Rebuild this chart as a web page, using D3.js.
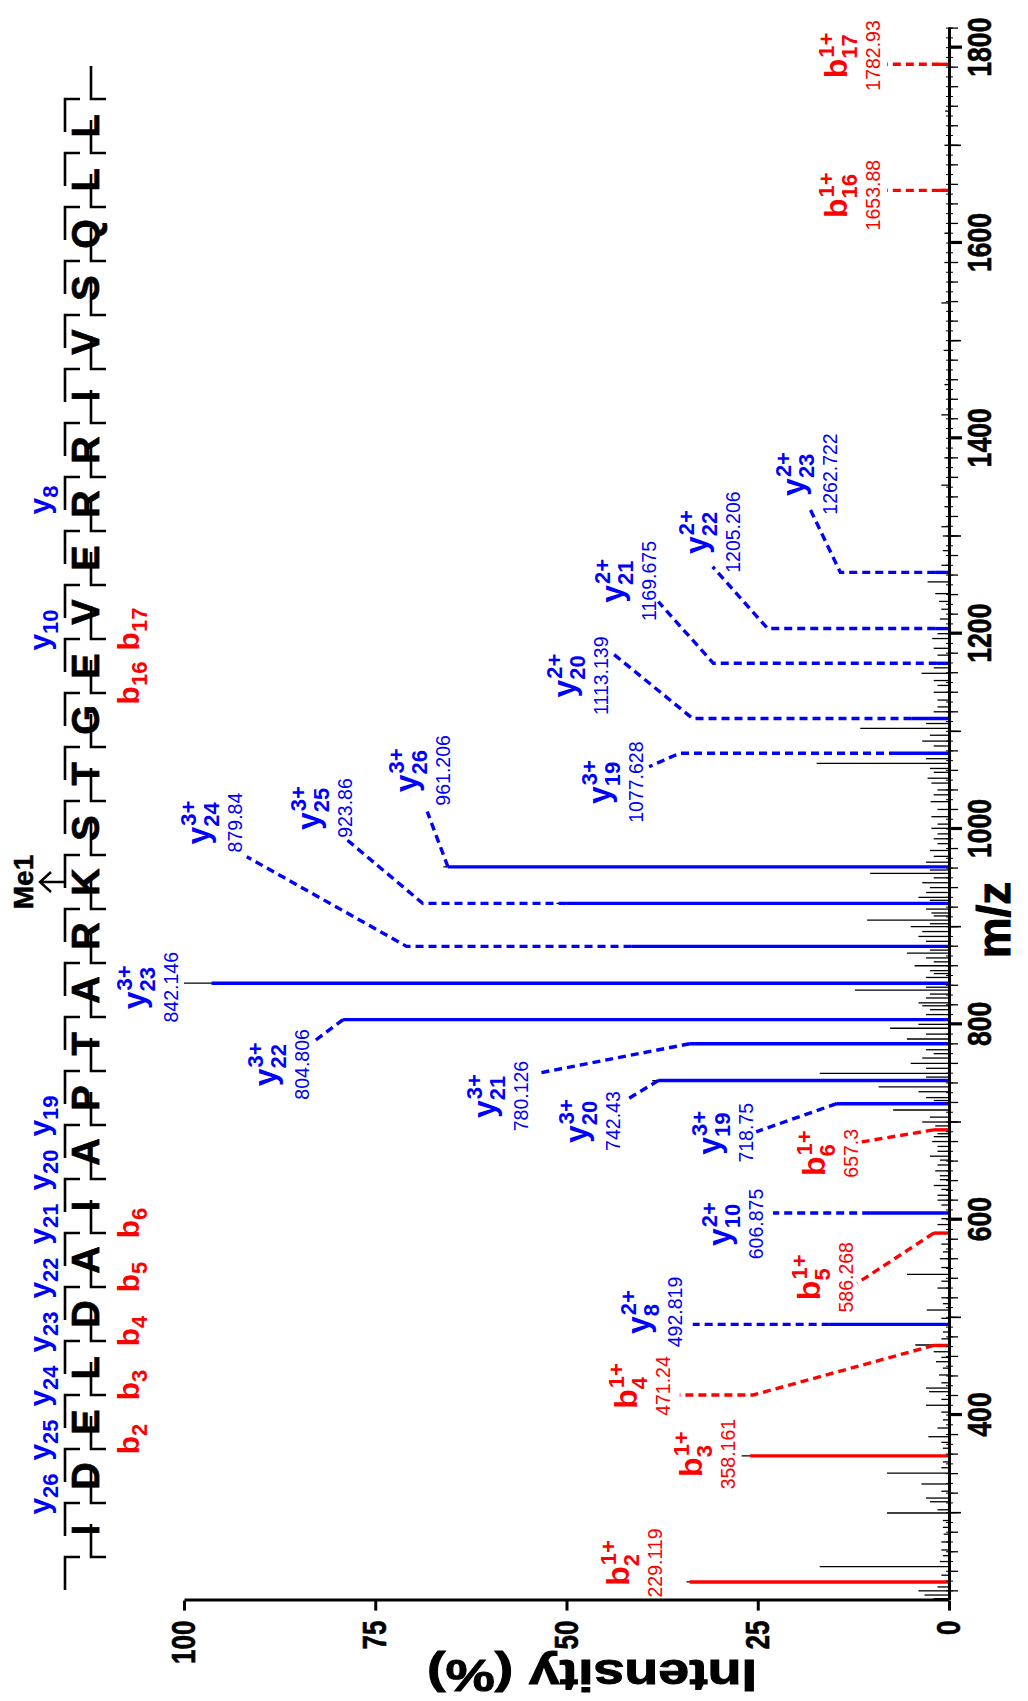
<!DOCTYPE html>
<html><head><meta charset="utf-8">
<script src="https://cdn.jsdelivr.net/npm/d3@7"></script>
<style>body{margin:0;background:#fff}svg{display:block}</style>
</head><body>
<svg id="chart" width="1028" height="1701"></svg>
<script>
// ---------------- DATA ----------------
const sequence = "IDELDAIAPTARKSTGEVERRIVSQLL".split("");
const seqYIons = [26,25,24,23,22,21,20,19,10,8];
const seqYShift = [0,0,0,0,0,0,0,0,0,22];   // label nudge along the sequence
const seqBIons = [2,3,4,5,6,16,17];
const modResidue = 12;            // K carries Me1
const modText = "Me1";
const mzDomain = [210, 1820];
const mzTicks = [400,600,800,1000,1200,1400,1600,1800];
const intTicks = [0,25,50,75,100];

// unassigned / raw spectrum (m/z, relative intensity %)
const spectrumMz = [212,215.7,220,224,229.1,236,244.7,250,256,261.8,270,278,285,292,299.7,303,311.2,315,322,329.4,340.6,346,352,358.2,366,372,377.8,386.7,395,403,410,416,423.9,427.6,433,441,448,454.6,459,464.8,471.7,478,485,492.8,499,507.5,514,520,530,537,544,551,560,567,575,586.3,595,601,606.9,615,620,625,631,635,641,645,650,656,661,665,670,675,680,685,688,692,696,700,705,712.3,718.7,722,725,731,736,742.4,746,749.8,755,760,765.5,770,774,780.1,785,790,796,800,804.8,810,815,819,822,827,831,835,838,842.1,848,852,855,860,864,868,873,876,879.8,885,890,895,900,903,906.8,911,914,918,923.9,927,930,935,940,945,950,954.6,958,961.2,966,972,978,985,990,995,1000.7,1005,1012.6,1020,1028,1035,1040,1047,1052,1058,1062,1067.2,1072,1077.6,1085,1090,1096,1103,1108,1113.1,1120,1125,1132,1140,1147,1152,1159.4,1165,1169.7,1178,1185,1195,1200,1205.2,1215,1225,1233,1241,1253,1262.7,1270,1285,1300,1309.5,1330,1352,1380,1424,1455,1490,1538.6,1580,1610,1653.9,1700,1735,1782.9];
const spectrumInt = [2.0,3.2,4.0,1.5,34.3,1.0,16.9,1.2,0.8,1.0,1.0,0.7,0.8,0.8,8.1,1.5,2.5,3.0,1.0,3.6,8.1,1.0,0.8,27.1,0.8,1.0,2.7,1.5,0.8,1.0,3.0,1.0,2.6,3.0,1.0,1.3,0.8,1.7,1.0,2.0,4.4,1.0,0.8,15.8,1.0,2.9,0.8,1.0,1.5,1.0,5.5,1.0,1.2,0.8,1.0,2.2,1.5,1.0,11.2,1.0,1.5,1.5,1.0,2.0,1.2,1.2,1.8,1.5,1.2,2.5,1.5,1.5,2.2,2.0,1.5,2.5,1.8,3.5,2.5,7.3,15.2,2.0,3.0,4.0,9.2,38.8,3.0,16.9,3.0,5.0,3.5,2.0,3.0,34.3,5.5,3.0,7.7,4.0,79.5,3.0,2.5,3.5,4.0,3.0,2.5,12.3,3.0,100,3.0,2.0,2.5,4.5,2.0,3.0,5.5,2.5,42.0,3.0,4.0,3.5,5.0,2.5,10.7,2.0,2.3,3.0,51.3,2.5,4.0,3.0,2.5,3.5,2.0,10.3,2.5,66.1,3.0,2.0,2.5,1.5,2.0,1.5,2.3,1.5,2.3,1.5,2.4,2.0,1.5,2.3,2.8,2.0,2.5,17.3,3.0,7.5,2.0,3.5,2.5,11.6,3.0,5.5,2.0,1.5,1.5,2.0,1.5,2.0,3.6,2.0,2.2,1.5,2.0,2.2,1.5,2.4,1.2,1.0,1.3,1.8,2.8,2.4,1.0,0.8,0.8,1.0,0.6,1.0,0.6,1.0,0.6,0.7,1.0,0.6,0.6,1.6,0.6,0.5,1.6];

// assigned fragment ions
const ionType   = ["b","b","b","y","b","y","b","y","y","y","y","y","y","y","y","y","y","y","y","y","b","b"];
const ionIndex  = ["2","3","4","8","5","10","6","19","20","21","22","23","24","25","26","19","20","21","22","23","16","17"];
const ionCharge = ["1+","1+","1+","2+","1+","2+","1+","3+","3+","3+","3+","3+","3+","3+","3+","3+","2+","2+","2+","2+","1+","1+"];
const ionText   = ["229.119","358.161","471.24","492.819","586.268","606.875","657.3","718.75","742.43","780.126","804.806","842.146","879.84","923.86","961.206","1077.628","1113.139","1169.675","1205.206","1262.722","1653.88","1782.93"];
const ionMz     = [229.119,358.161,471.24,492.819,586.268,606.875,692,718.75,742.43,780.126,804.806,842.146,879.84,923.86,961.206,1077.628,1113.139,1169.675,1205.206,1262.722,1653.88,1782.93];
const ionInt    = [33.9,26.0,2.0,15.6,2.0,10.3,2.0,14.7,38.0,33.9,79.2,96.4,41.5,50.0,65.5,6.8,4.9,1.6,1.8,1.8,1.2,1.2];
// leader (dashed) bends after the peak top: [m/z, %]
const ionLeader = [[],[],[[420.5,25.6],[420.5,35.2]],[[492.819,33.5]],[[535,12.0]],[[606.875,23.0]],[[679.5,11.5]],[[690,25.2]],[[722.5,42.2]],[[750,53.7]],[[782,83.1]],[],[[879.84,70.9],[971.6,91.8]],[[923.86,68.8],[989,78.7]],[[1017.7,68.2]],[[1077.628,35.2],[1063.8,39.2]],[[1113.139,33.5],[1180,44.0]],[[1169.675,30.8],[1232.7,38.0]],[[1205.206,23.7],[1268.5,30.9]],[[1262.722,14.2],[1326.6,18.1]],[[1653.88,8.1]],[[1782.93,8.1]]];
// label anchor: centre m/z and intensity of the number's baseline
const ionLabelMz  = [248.5,360,429.7,505.5,541,595.6,668,689,701,726.6,759,838,1006.6,1021.5,1060,1048,1157,1254,1304,1363.5,1649,1792];
const ionLabelInt = [37.5,28.0,36.5,34.9,12.5,24.3,11.9,25.6,43.0,55.0,83.7,100.8,92.4,78.1,65.2,40.0,44.6,38.3,27.3,14.7,9.0,9.0];

const colors = {b:"#ff0000", y:"#0000ff"};
const FONT = "'Liberation Sans', Arial, Helvetica, sans-serif";

// ---------------- CHART ----------------
const W = 1028, H = 1701;
const svg = d3.select("#chart");
// the chart is drawn unrotated (m/z horizontal) and rotated -90 deg as a whole
const g = svg.append("g").attr("transform", `translate(0,${H}) rotate(-90)`)
  .style("font-family", FONT);

const x = d3.scaleLinear().domain(mzDomain).range([100.4, 1672.9]);
const y = d3.scaleLinear().domain([0, 100]).range([949, 184]);

// raw spectrum
g.append("g").selectAll("line").data(d3.range(spectrumMz.length)).join("line")
  .attr("x1", i => x(spectrumMz[i])).attr("x2", i => x(spectrumMz[i]))
  .attr("y1", y(0)).attr("y2", i => y(spectrumInt[i]))
  .attr("stroke", "#000").attr("stroke-width", 1.3);

// assigned peaks
const ions = d3.range(ionMz.length);
g.append("g").selectAll("line").data(ions).join("line")
  .attr("x1", i => x(ionMz[i])).attr("x2", i => x(ionMz[i]))
  .attr("y1", y(0)).attr("y2", i => y(ionInt[i]))
  .attr("stroke", i => colors[ionType[i]]).attr("stroke-width", 3.4);

const line = d3.line().x(d => x(d[0])).y(d => y(d[1]));
g.append("g").selectAll("path").data(ions.filter(i => ionLeader[i].length)).join("path")
  .attr("d", i => line([[ionMz[i], ionInt[i]], ...ionLeader[i]]))
  .attr("fill", "none").attr("stroke", i => colors[ionType[i]])
  .attr("stroke-width", 3.4).attr("stroke-dasharray", "8,5");

// labels
function ionName(parent, letter, sub, sup, cx, baseY, color, big, small, subDy, supDy) {
  const grp = parent.append("g");
  const t = grp.append("text").attr("x", 0).attr("y", 0).attr("font-size", big)
    .attr("font-weight", "bold").attr("fill", color).text(letter);
  const wl = t.node().getComputedTextLength();
  let ws = 0;
  if (sub) {
    const s = grp.append("text").attr("x", wl).attr("y", subDy).attr("font-size", small)
      .attr("font-weight", "bold").attr("fill", color).text(sub);
    ws = Math.max(ws, s.node().getComputedTextLength());
  }
  if (sup) {
    const s = grp.append("text").attr("x", wl + 1).attr("y", supDy).attr("font-size", small)
      .attr("font-weight", "bold").attr("fill", color).text(sup);
    ws = Math.max(ws, s.node().getComputedTextLength() + 1);
  }
  grp.attr("transform", `translate(${cx - (wl + ws) / 2},${baseY})`);
}
const lab = g.append("g");
ions.forEach(i => {
  const cx = x(ionLabelMz[i]), by = y(ionLabelInt[i]);
  const c = colors[ionType[i]];
  lab.append("text").attr("x", cx).attr("y", by).attr("text-anchor", "middle")
    .attr("font-size", 19.5).attr("fill", c).text(ionText[i]);
  ionName(lab, ionType[i], ionIndex[i], ionCharge[i], cx, by - 33, c, 32, 22, 10, -13);
});

// axes
const xAxis = g.append("g").attr("transform", `translate(0,${y(0)})`);
xAxis.selectAll("line.m10").data(d3.range(220, 1821, 10)).join("line").attr("class","m10")
  .attr("x1", d => x(d)).attr("x2", d => x(d)).attr("y1", -3).attr("y2", 4)
  .attr("stroke", "#000").attr("stroke-width", 1);
xAxis.selectAll("line.m20").data(d3.range(220, 1821, 20)).join("line").attr("class","m20")
  .attr("x1", d => x(d)).attr("x2", d => x(d)).attr("y1", 0).attr("y2", 9)
  .attr("stroke", "#000").attr("stroke-width", 1.3);
xAxis.selectAll("line.m100").data(d3.range(300, 1821, 200)).join("line").attr("class","m100")
  .attr("x1", d => x(d)).attr("x2", d => x(d)).attr("y1", 0).attr("y2", 12)
  .attr("stroke", "#000").attr("stroke-width", 1.6);
const ax = d3.axisBottom(x).tickValues(mzTicks).tickSize(13).tickSizeOuter(0).tickPadding(6)
  .tickFormat(d3.format("d"));
xAxis.call(ax);
xAxis.select(".domain").attr("stroke-width", 3);
xAxis.selectAll(".tick line").attr("stroke-width", 3.2);
xAxis.selectAll(".tick text").attr("font-size", 33).attr("font-weight", "bold")
  .attr("font-family", FONT).attr("fill", "#000").attr("stroke", "#000").attr("stroke-width", 0.6)
  .attr("textLength", d => String(d).length * 14.8).attr("lengthAdjust", "spacingAndGlyphs");

const yAxis = g.append("g").attr("transform", `translate(${x(mzDomain[0])},0)`);
yAxis.call(d3.axisLeft(y).tickValues(intTicks).tickSize(10).tickSizeOuter(0).tickPadding(10));
yAxis.select(".domain").attr("stroke-width", 3);
yAxis.selectAll(".tick line").attr("stroke-width", 3);
yAxis.selectAll(".tick text").attr("font-size", 33).attr("font-weight", "bold")
  .attr("font-family", FONT).attr("fill", "#000").attr("stroke", "#000").attr("stroke-width", 0.6)
  .attr("textLength", d => String(d).length * 14.5).attr("lengthAdjust", "spacingAndGlyphs");

g.append("text").attr("transform", "translate(41,592) rotate(-90)").attr("text-anchor", "middle")
  .attr("font-size", 44).attr("font-weight", "bold").attr("stroke", "#000").attr("stroke-width", 1)
  .attr("textLength", 330).attr("lengthAdjust", "spacingAndGlyphs").text("Intensity (%)");
g.append("text").attr("x", 781).attr("y", 1010).attr("text-anchor", "middle")
  .attr("font-size", 46).attr("font-weight", "bold").attr("stroke", "#000").attr("stroke-width", 1)
  .text("m/z");

// peptide sequence
const sp = d3.scalePoint().domain(d3.range(sequence.length)).range([171, 1575]);
const step = sp.step();
const seqG = g.append("g");
seqG.selectAll("text").data(d3.range(sequence.length)).join("text")
  .attr("x", i => sp(i)).attr("y", 99).attr("text-anchor", "middle")
  .attr("font-size", 38).attr("font-weight", "bold").attr("stroke", "#000").attr("stroke-width", 0.7)
  .text(i => sequence[i]);
const bounds = d3.range(sequence.length + 1).map(j => sp(0) - step / 2 + j * step);
const segL = 33, hook = 15;
seqG.selectAll("path.fr").data(bounds).join("path").attr("class", "fr")
  .attr("d", p => `M${p - segL},65H${p}V${65 + hook}M${p},106V${106 - hook}H${p + segL}`)
  .attr("fill", "none").attr("stroke", "#000").attr("stroke-width", 2.6);
seqYIons.forEach((n, j) => {
  const k = sequence.length - n - 1;
  const u = (sp(k) + sp(k + 1)) / 2 + 9 + seqYShift[j];
  ionName(seqG, "y", String(n), null, u, 50, colors.y, 30, 22, 8, 0);
});
seqBIons.forEach(n => {
  const u = (sp(n - 1) + sp(n)) / 2 + 10;
  ionName(seqG, "b", String(n), null, u, 139, colors.b, 30, 22, 8, 0);
});
// methylation mark
const uK = sp(modResidue);
seqG.append("path").attr("d", `M${uK},65V40M${uK - 10},51L${uK},40L${uK + 10},51`)
  .attr("fill", "none").attr("stroke", "#000").attr("stroke-width", 2.4);
seqG.append("text").attr("x", uK).attr("y", 33).attr("text-anchor", "middle")
  .attr("font-size", 28).attr("font-weight", "bold").attr("stroke", "#000").attr("stroke-width", 0.5)
  .text(modText);
</script>
</body></html>
